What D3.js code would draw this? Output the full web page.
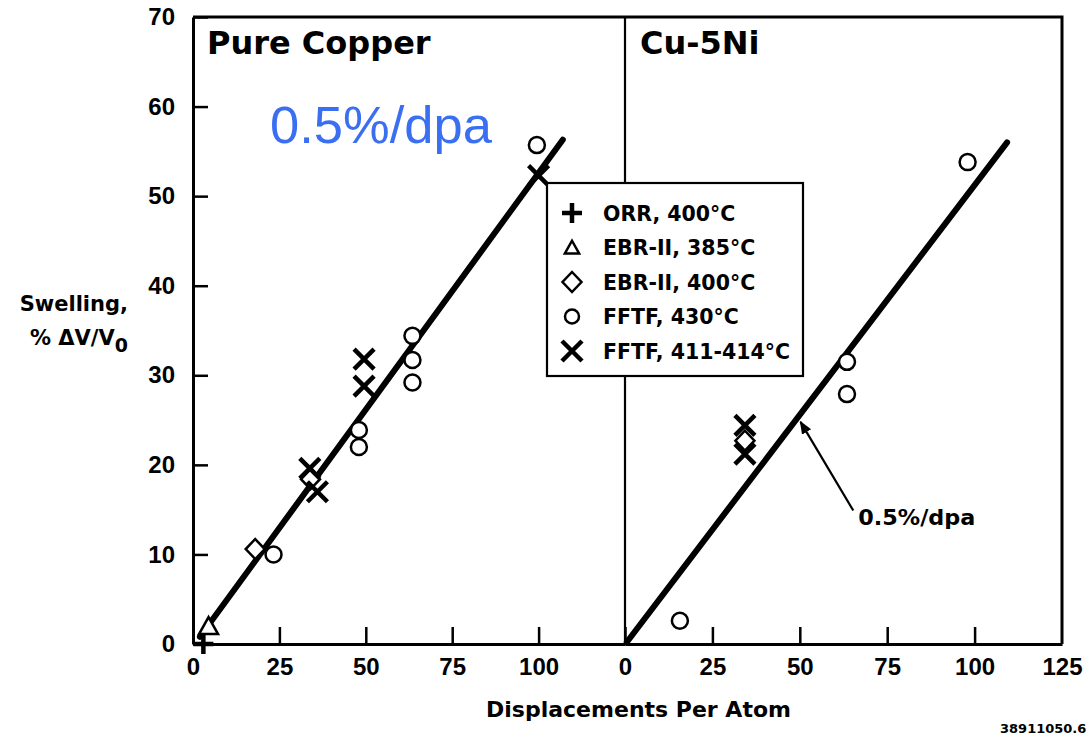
<!DOCTYPE html>
<html>
<head>
<meta charset="utf-8">
<script src="https://cdn.jsdelivr.net/npm/d3@7"></script>
<style>
  body { margin: 0; background: #fff; }
  svg { display: block; }
</style>
</head>
<body>
<div id="chart"></div>
<script>
/* CONSTANTS */
const width = 1090, height = 736;
const plot = {top: 17, bottom: 644, left: 193, mid: 625, right: 1062};

/* DATA  [dpa, swelling %] */
const yTicks = [0, 10, 20, 30, 40, 50, 60, 70];
const leftXTicks = [0, 25, 50, 75, 100];
const rightXTicks = [0, 25, 50, 75, 100, 125];

const leftORR = [[3, 0]];
const leftEBR385 = [[4.5, 2]];
const leftEBR400 = [[18, 10.6], [34, 18.4]];
const leftFFTF430 = [[23.3, 10], [48, 23.9], [48, 22], [63.5, 34.4], [63.5, 31.7], [63.5, 29.2], [99.5, 55.7]];
const leftFFTF411 = [[33.8, 19.6], [36, 17], [49.5, 31.8], [49.5, 28.8], [100, 52.3]];
const leftFit = [[2, 0.8], [107, 56.3]];

const rightEBR400 = [[34.3, 22.7]];
const rightFFTF430 = [[15.7, 2.6], [63.5, 31.5], [63.5, 27.9], [98, 53.8]];
const rightFFTF411 = [[34.3, 24.4], [34.3, 21.2]];
const rightFit = [[0.5, 0.2], [109.3, 56]];
const arrowPts = [[65.3, 14.9], [50.2, 24.8]];

const legendLabels = ["ORR, 400°C", "EBR-II, 385°C", "EBR-II, 400°C", "FFTF, 430°C", "FFTF, 411-414°C"];
const legendShapes = ["plus", "triangle", "diamond", "circle", "cross"];

/* SCALES */
const yScale = d3.scaleLinear().domain([0, 70]).range([plot.bottom, plot.top]);
const xLeft = d3.scaleLinear().domain([0, 125]).range([plot.left, plot.mid]);
const xRight = d3.scaleLinear().domain([0, 125]).range([plot.mid, plot.right]);

const svg = d3.select("#chart").append("svg")
  .attr("width", width)
  .attr("height", height);

const titleFont = "'DejaVu Sans', sans-serif";
const numFont = "'Liberation Sans', Arial, sans-serif";

// marker shapes drawn around (0,0); legend ones are a bit smaller for triangle / circle
function drawShape(g, shape, big) {
  if (shape === "plus") {
    g.append("path").attr("d", "M-10,0H10M0,-10V10")
      .attr("stroke", "#000").attr("stroke-width", 4.5).attr("fill", "none");
  } else if (shape === "cross") {
    g.append("path").attr("d", "M-10,-10L10,10M10,-10L-10,10")
      .attr("stroke", "#000").attr("stroke-width", 4.5).attr("fill", "none");
  } else if (shape === "triangle") {
    const s = big ? 1 : 0.75;
    g.append("path").attr("d", `M0,${-9*s}L${9.5*s},${8*s}L${-9.5*s},${8*s}Z`)
      .attr("stroke", "#000").attr("stroke-width", 2.5).attr("fill", "#fff");
  } else if (shape === "diamond") {
    g.append("path").attr("d", "M0,-10L9.5,0L0,10L-9.5,0Z")
      .attr("stroke", "#000").attr("stroke-width", 2.5).attr("fill", "#fff");
  } else if (shape === "circle") {
    g.append("circle").attr("r", big ? 8 : 7)
      .attr("stroke", "#000").attr("stroke-width", 2.5).attr("fill", "#fff");
  }
}

/* AXES */
const yAxis = d3.axisLeft(yScale).tickValues(yTicks)
  .tickSizeInner(-15).tickSizeOuter(0).tickPadding(18);
const yAxisGroup = svg.append("g")
  .attr("transform", `translate(${plot.left},0)`)
  .call(yAxis);

const xAxisL = svg.append("g")
  .attr("transform", `translate(0,${plot.bottom})`)
  .call(d3.axisBottom(xLeft).tickValues(leftXTicks).tickSizeInner(-17).tickSizeOuter(0).tickPadding(14));
const xAxisR = svg.append("g")
  .attr("transform", `translate(0,${plot.bottom})`)
  .call(d3.axisBottom(xRight).tickValues(rightXTicks).tickSizeInner(-17).tickSizeOuter(0).tickPadding(14));

[yAxisGroup, xAxisL, xAxisR].forEach(g => {
  g.select(".domain").attr("stroke", "#000").attr("stroke-width", 3);
  g.selectAll(".tick line").attr("stroke", "#000").attr("stroke-width", 2.5);
  g.selectAll(".tick text")
    .attr("fill", "#000")
    .style("font-family", numFont)
    .style("font-weight", "bold")
    .style("font-size", "24px");
});
xAxisR.selectAll(".tick").filter(d => d === 125).select("line").remove();

// frame: top, right, divider
svg.append("path")
  .attr("d", `M${plot.left},${plot.top}H${plot.right}V${plot.bottom}`)
  .attr("fill", "none").attr("stroke", "#000").attr("stroke-width", 3);
svg.append("line")
  .attr("x1", plot.mid).attr("x2", plot.mid)
  .attr("y1", plot.top).attr("y2", plot.bottom)
  .attr("stroke", "#000").attr("stroke-width", 2.2);

/* FIT LINES */
const lineL = d3.line().x(d => xLeft(d[0])).y(d => yScale(d[1]));
const lineR = d3.line().x(d => xRight(d[0])).y(d => yScale(d[1]));
svg.append("path").attr("d", lineL(leftFit))
  .attr("stroke", "#000").attr("stroke-width", 6).attr("fill", "none").attr("stroke-linecap", "round");
svg.append("path").attr("d", lineR(rightFit))
  .attr("stroke", "#000").attr("stroke-width", 6).attr("fill", "none").attr("stroke-linecap", "round");

/* POINTS */
function plotPoints(data, xs, shape) {
  data.forEach(d => {
    const g = svg.append("g").attr("transform", `translate(${xs(d[0])},${yScale(d[1])})`);
    drawShape(g, shape, true);
  });
}
plotPoints(leftORR, xLeft, "plus");
plotPoints(leftEBR385, xLeft, "triangle");
plotPoints(leftEBR400, xLeft, "diamond");
plotPoints(leftFFTF430, xLeft, "circle");
plotPoints(leftFFTF411, xLeft, "cross");
plotPoints(rightEBR400, xRight, "diamond");
plotPoints(rightFFTF430, xRight, "circle");
plotPoints(rightFFTF411, xRight, "cross");

/* ARROW ANNOTATION */
svg.append("defs").append("marker")
  .attr("id", "arrowhead")
  .attr("viewBox", "0 0 10 10")
  .attr("refX", 9).attr("refY", 5)
  .attr("markerWidth", 6).attr("markerHeight", 6)
  .attr("orient", "auto")
  .append("path").attr("d", "M0,1L10,5L0,9Z").attr("fill", "#000");
svg.append("path").attr("d", lineR(arrowPts))
  .attr("stroke", "#000").attr("stroke-width", 2.2).attr("fill", "none")
  .attr("marker-end", "url(#arrowhead)");
svg.append("text")
  .attr("x", xRight(arrowPts[0][0]) + 5).attr("y", yScale(arrowPts[0][1]) + 14)
  .style("font-family", titleFont).style("font-size", "21px").style("font-weight", "bold")
  .attr("textLength", 117).attr("lengthAdjust", "spacingAndGlyphs")
  .text("0.5%/dpa");

/* LEGEND */
const legend = svg.append("g").attr("transform", "translate(547,183)");
legend.append("rect")
  .attr("width", 256).attr("height", 193)
  .attr("fill", "#fff").attr("stroke", "#000").attr("stroke-width", 2.2);
legendLabels.forEach((lab, i) => {
  const cy = 30 + i * 34.5;
  const g = legend.append("g").attr("transform", `translate(25,${cy})`);
  drawShape(g, legendShapes[i], false);
  legend.append("text")
    .attr("x", 56).attr("y", cy + 7.5)
    .style("font-family", titleFont).style("font-size", "20.5px").style("font-weight", "bold")
    .text(lab);
});

/* TITLES AND LABELS */
svg.append("text")
  .attr("x", 207).attr("y", 54)
  .style("font-family", titleFont).style("font-size", "32px").style("font-weight", "bold")
  .text("Pure Copper");
svg.append("text")
  .attr("x", 640).attr("y", 54)
  .style("font-family", titleFont).style("font-size", "32px").style("font-weight", "bold")
  .text("Cu-5Ni");
svg.append("text")
  .attr("x", 270).attr("y", 143)
  .attr("fill", "#3b6ff2")
  .style("font-family", numFont).style("font-size", "52.5px")
  .text("0.5%/dpa");

const yl = svg.append("text")
  .attr("text-anchor", "end")
  .style("font-family", titleFont).style("font-size", "21px").style("font-weight", "bold");
yl.append("tspan").attr("x", 128).attr("y", 311).text("Swelling,");
const yl2 = yl.append("tspan").attr("x", 128).attr("y", 345);
yl2.text("% ΔV/V");
yl2.append("tspan").attr("dy", 7).style("font-size", "19px").text("0");

svg.append("text")
  .attr("x", (plot.left + plot.right) / 2 + 11).attr("y", 717)
  .attr("text-anchor", "middle")
  .style("font-family", titleFont).style("font-size", "22px").style("font-weight", "bold")
  .text("Displacements Per Atom");

svg.append("text")
  .attr("x", 1000).attr("y", 733)
  .style("font-family", titleFont).style("font-size", "13px").style("font-weight", "bold")
  .text("38911050.6");
</script>
</body>
</html>
